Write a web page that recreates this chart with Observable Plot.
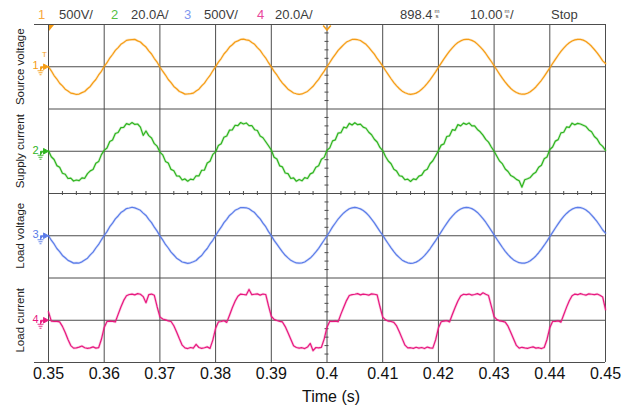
<!DOCTYPE html>
<html>
<head>
<meta charset="utf-8">
<script src="https://cdn.jsdelivr.net/npm/d3@7"></script>
<script src="https://cdn.jsdelivr.net/npm/@observablehq/plot@0.6"></script>
<style>
  html, body { margin: 0; padding: 0; background: #fff; }
  #chart { position: relative; width: 631px; height: 408px; font-family: "Liberation Sans", Arial, sans-serif; }
  #header { position: relative; height: 20px; font-size: 13px; color: #3c3c3c; }
  #header span { position: absolute; top: 7px; line-height: 15px; white-space: nowrap; }
  #header span.unit { top: 9px; font-size: 6px; line-height: 5px; text-align: center; }
  #chart svg { display: block; }
</style>
</head>
<body>
<div id="chart"><div id="header"></div></div>
<script>
// Scope channels, top to bottom
const channels = ["Source voltage", "Supply current", "Load voltage", "Load current"];
const channelNumbers = ["1", "2", "3", "4"];
const scaleLabels = ["500V/", "20.0A/", "500V/", "20.0A/"];
const unitsPerDiv = [500, 20, 500, 20];      // V/div, A/div
const channelOffsets = [3, 1, -1, -3];        // ground reference, in divisions
const traceColors = ["#f59c14", "#2fb41e", "#5b7ce9", "#e8187f"];
const numberColors = ["#f7a941", "#55c043", "#8197ef", "#e9479b"];

// Timebase readout
const triggerDelay = "898.4";
const timePerDiv = "10.00";
const timeUnit = "ms";
const runState = "Stop";

// Samples every 0.5 ms starting at 0.35 s
const t0 = 0.35;
const dt = 0.0005;

const sourceVoltage = [
  0, -48, -104, -145, -195, -226, -266, -287, -312, -318, -328, -323, -306, -293, -260, -233, -188, -151, -97, -54,
  3, 48, 103, 145, 194, 227, 266, 287, 312, 319, 322, 324, 306, 293, 260, 233, 188, 151, 97, 54,
  -3, -53, -98, -151, -188, -233, -260, -293, -306, -324, -322, -319, -312, -287, -266, -227, -194, -145, -103, -48,
  2, 54, 97, 151, 188, 233, 260, 293, 306, 323, 327, 318, 312, 287, 266, 227, 194, 145, 103, 48,
  -2, -55, -97, -150, -193, -228, -265, -288, -311, -320, -326, -322, -307, -292, -262, -231, -189, -150, -98, -52,
  1, 50, 102, 147, 193, 228, 262, 292, 307, 323, 324, 320, 311, 288, 265, 229, 189, 150, 98, 55,
  8, -44, -93, -142, -187, -226, -260, -289, -307, -320, -327, -322, -312, -294, -266, -235, -196, -155, -108, -60,
  -8, 42, 93, 140, 186, 224, 259, 286, 306, 320, 325, 323, 312, 295, 268, 236, 199, 157, 109, 62,
  12, -39, -90, -138, -183, -222, -257, -285, -305, -318, -325, -324, -314, -296, -270, -239, -200, -160, -113, -64,
  -14, 38, 88, 136, 181, 220, 256, 284, 305, 318, 324, 323, 315, 298, 273, 242, 204, 165, 119, 70,
  38
];

const supplyCurrent = [
  0.2, -2.6, -3.9, -6.8, -7.6, -10.4, -10.9, -12.9, -12.7, -14.1, -13.6, -13.9, -12.6, -12.8, -10.6, -9.3, -8.6, -5.7, -4.9, -1.6,
  0.4, 1.5, 4.6, 5.3, 8.4, 8.9, 11.2, 11.3, 13.1, 12.6, 13.6, 12.7, 12.9, 11.4, 7.5, 9.6, 7.4, 6.3, 3.6, 2.4,
  -0.4, -1.7, -4.8, -5.6, -8.6, -9.2, -11.7, -11.8, -13.6, -13.1, -14.2, -13.2, -13.5, -11.6, -11.7, -9.0, -8.9, -5.6, -4.7, -1.5,
  -0.3, 2.7, 3.6, 6.6, 7.2, 10.0, 10.1, 12.3, 12.1, 13.6, 12.9, 13.4, 12.1, 12.2, 10.2, 9.8, 7.2, 6.4, 4.5, 2.6,
  0.6, -2.8, -3.7, -6.9, -7.4, -10.3, -10.6, -12.9, -12.6, -14.2, -13.4, -14.0, -12.5, -12.9, -10.7, -10.1, -7.6, -6.9, -3.8, -2.9,
  0.5, 1.6, 4.9, 5.4, 8.6, 8.8, 11.4, 11.0, 13.2, 12.4, 13.5, 12.6, 12.8, 11.4, 10.9, 9.0, 7.8, 5.7, 4.4, 1.8,
  0.3, -2.5, -4.6, -5.9, -8.5, -9.4, -11.6, -11.9, -13.5, -13.2, -14.3, -13.1, -13.4, -11.8, -11.3, -9.2, -8.5, -5.9, -4.5, -2.2,
  0.2, 2.9, 3.5, 7.0, 7.3, 10.2, 9.9, 12.6, 12.0, 13.3, 12.7, 13.4, 12.0, 12.0, 10.3, 9.2, 7.6, 5.6, 4.3, 2.0,
  0.0, -2.4, -4.7, -6.0, -8.4, -9.6, -11.5, -12.2, -13.3, -14.0, -17.0, -13.5, -13.0, -12.4, -10.8, -9.9, -7.6, -6.6, -3.5, -2.7,
  0.8, 2.0, 4.8, 5.5, 8.7, 9.0, 11.5, 11.3, 13.3, 12.5, 13.2, 12.9, 12.3, 11.7, 10.1, 9.2, 7.0, 5.8, 3.5, 2.3,
  0.4
];

const loadVoltage = [
  0, -53, -97, -151, -188, -233, -261, -292, -306, -324, -321, -323, -309, -287, -266, -227, -194, -145, -103, -48,
  3, 49, 107, 149, 200, 234, 274, 295, 322, 328, 337, 330, 316, 301, 268, 240, 194, 155, 101, 55,
  -2, -49, -103, -145, -194, -228, -265, -287, -311, -318, -327, -320, -307, -293, -260, -234, -188, -151, -97, -54,
  2, 55, 101, 155, 194, 240, 268, 301, 316, 334, 333, 331, 319, 295, 274, 234, 200, 149, 107, 49,
  1, -55, -99, -146, -192, -231, -262, -291, -308, -322, -324, -321, -310, -288, -264, -229, -192, -149, -99, -50,
  -1, 50, 105, 151, 198, 236, 270, 297, 320, 330, 336, 329, 318, 299, 272, 238, 196, 153, 103, 52,
  6, -46, -95, -143, -187, -228, -259, -289, -306, -320, -326, -323, -312, -293, -267, -235, -197, -154, -106, -58,
  -6, 46, 98, 146, 193, 233, 268, 296, 317, 330, 335, 332, 321, 302, 276, 241, 203, 160, 111, 61,
  10, -41, -91, -139, -184, -224, -257, -286, -304, -319, -325, -324, -314, -296, -270, -239, -201, -158, -112, -63,
  -11, 40, 92, 141, 188, 229, 264, 293, 315, 329, 335, 333, 323, 305, 279, 245, 207, 166, 118, 68,
  32
];

const loadCurrent = [
  4.0, -0.4, -0.6, -0.5, -0.8, -2.9, -5.8, -9.1, -12.0, -13.2, -13.1, -12.7, -12.2, -13.0, -13.3, -13.1, -12.6, -13.2, -13.0, -9.0,
  -3.4, -0.6, -0.4, -0.5, -0.8, 2.8, 6.3, 9.4, 11.6, 12.2, 12.4, 12.0, 12.6, 12.3, 11.2, 8.3, 12.1, 12.4, 11.8, 6.4,
  1.6, 0.6, 0.2, -0.3, -0.6, -2.6, -5.6, -8.8, -11.8, -13.1, -13.4, -12.9, -13.2, -11.4, -12.9, -13.3, -13.0, -12.6, -13.3, -9.4,
  -3.8, -0.8, -0.6, -0.2, -1.0, 2.4, 5.9, 9.0, 11.4, 12.4, 12.2, 12.0, 14.6, 12.1, 12.3, 12.5, 11.9, 12.4, 12.2, 6.8,
  1.9, 0.4, -0.1, -0.5, -0.8, -3.0, -5.9, -9.0, -12.1, -12.9, -13.2, -13.0, -13.4, -12.7, -11.0, -14.4, -12.9, -13.1, -12.8, -8.8,
  -3.3, -0.5, -0.6, -0.4, -0.7, 2.9, 6.2, 9.3, 11.7, 12.1, 12.3, 12.6, 12.0, 12.4, 12.2, 11.9, 12.5, 12.3, 12.0, 6.5,
  1.5, 0.2, -0.4, -0.6, -1.0, -2.7, -5.6, -8.7, -11.8, -13.1, -13.0, -13.3, -12.8, -13.2, -12.9, -13.4, -12.7, -13.1, -13.2, -9.3,
  -3.7, -0.7, -0.4, -0.2, -0.8, 2.7, 6.0, 9.1, 11.5, 12.3, 12.1, 12.4, 11.9, 12.2, 12.6, 12.0, 13.0, 12.3, 11.7, 6.7,
  1.7, 0.3, -0.3, -0.5, -0.9, -2.8, -5.8, -8.9, -11.9, -13.2, -12.8, -13.1, -13.3, -12.9, -12.6, -13.2, -13.0, -13.4, -12.9, -9.1,
  -3.5, -0.6, -0.5, -0.3, -0.9, 2.6, 6.1, 9.2, 11.6, 12.4, 12.1, 12.6, 12.2, 11.9, 12.5, 12.3, 12.1, 12.4, 11.8, 11.0,
  5.0
];

const xTicks = [0.35, 0.36, 0.37, 0.38, 0.39, 0.40, 0.41, 0.42, 0.43, 0.44, 0.45];
const xTickLabels = ["0.35", "0.36", "0.37", "0.38", "0.39", "0.4", "0.41", "0.42", "0.43", "0.44", "0.45"];
const xLabel = "Time (s)";

// ---- header readout (channel scales and timebase) ----
const header = document.getElementById("header");
function addSpan(html, left, color, cls) {
  const s = document.createElement("span");
  s.innerHTML = html;
  s.style.left = left + "px";
  if (color) s.style.color = color;
  if (cls) s.className = cls;
  header.appendChild(s);
}
const numberLeft = [38, 111, 184, 257];
const scaleLeft = [59, 131, 204, 275];
channelNumbers.forEach((n, i) => {
  addSpan(n, numberLeft[i], numberColors[i]);
  addSpan(scaleLabels[i], scaleLeft[i]);
});
const stackedUnit = timeUnit.split("").join("<br>");
addSpan(triggerDelay, 400);
addSpan(stackedUnit, 434.5, null, "unit");
addSpan(timePerDiv, 470);
addSpan(stackedUnit, 504.5, null, "unit");
addSpan("/", 510);
addSpan(runState, 551);

// ---- traces in screen divisions ----
const series = [sourceVoltage, supplyCurrent, loadVoltage, loadCurrent];
const rows = series.flatMap((vals, c) =>
  vals.map((v, i) => ({t: t0 + i * dt, ch: channels[c], y: channelOffsets[c] + v / unitsPerDiv[c]}))
);

// Graticule: 10 x 8 divisions, minor marks on the centre lines
const gridColor = "#4d4d4d";
const innerRows = d3.range(-3, 4);
const minorY = d3.range(-20, 21).filter(k => k % 5 !== 0).map(k => k / 5);
const minorX = d3.range(1, 40).filter(k => k % 4 !== 0).map(k => 0.35 + k * 0.0025);

// Channel ground marker: arrow with a ground symbol below
const groundMarker = {
  draw(ctx) {
    ctx.moveTo(0, 0); ctx.lineTo(-5, -2.8); ctx.lineTo(-5, 2.8); ctx.closePath();
    ctx.moveTo(-5, 0); ctx.lineTo(-8, 0); ctx.lineTo(-8, 4);
    ctx.moveTo(-11, 4); ctx.lineTo(-5, 4);
    ctx.moveTo(-10, 6); ctx.lineTo(-6, 6);
    ctx.moveTo(-9, 8); ctx.lineTo(-7, 8);
  }
};
// Trigger position markers along the top edge
const cornerMarker = {
  draw(ctx) { ctx.moveTo(0.5, 0.5); ctx.lineTo(5.5, 0.5); ctx.lineTo(0.5, 6.5); ctx.closePath(); }
};
const triggerMarker = {
  draw(ctx) { ctx.moveTo(-3.8, 1); ctx.lineTo(0, 5.5); ctx.lineTo(3.8, 1); }
};

const chart = Plot.plot({
  width: 631,
  height: 388,
  marginTop: 4,
  marginBottom: 46,
  marginLeft: 34,
  marginRight: 26,
  style: {fontFamily: "'Liberation Sans', Arial, sans-serif", background: "#fff", color: "#111"},
  x: {domain: [0.35, 0.45], insetLeft: 14, axis: null},
  y: {domain: [-4, 4], axis: null},
  color: {domain: channels, range: traceColors},
  marks: [
    Plot.ruleX(xTicks, {stroke: gridColor, strokeWidth: 1}),
    Plot.ruleY(innerRows, {x1: 0.35, x2: 0.45, stroke: gridColor, strokeWidth: 1}),
    Plot.ruleY([4, -4], {stroke: gridColor, strokeWidth: 1}),
    Plot.ruleY(minorY, {x1: 0.40, x2: 0.40, insetLeft: -2, insetRight: -2, stroke: gridColor}),
    Plot.ruleX(minorX, {y1: 0, y2: 0, insetTop: -2, insetBottom: -2, stroke: gridColor}),
    Plot.line(rows, {x: "t", y: "y", z: "ch", stroke: "ch", strokeWidth: 2.6, strokeOpacity: 0.22}),
    Plot.line(rows, {x: "t", y: "y", z: "ch", stroke: "ch", strokeWidth: 1.2}),
    Plot.dot(channels, {x: 0.35, y: (d, i) => channelOffsets[i], symbol: groundMarker, fill: d => d, stroke: d => d, strokeWidth: 0.9}),
    Plot.text(channelNumbers, {x: 0.35, y: (d, i) => channelOffsets[i], text: d => d, fill: (d, i) => channels[i], dx: -10, dy: -1, textAnchor: "end", fontSize: 11}),
    Plot.text(["T"], {x: 0.35, y: channelOffsets[0], text: d => d, fill: traceColors[0], dx: -4, dy: -12, fontSize: 8}),
    Plot.dot([0.35], {x: d => d, y: 4, symbol: cornerMarker, fill: traceColors[0], stroke: "none"}),
    Plot.dot([0.40], {x: d => d, y: 4, symbol: triggerMarker, fill: "none", stroke: traceColors[0], strokeWidth: 1.6}),
    Plot.text(channels, {x: 0.35, y: (d, i) => channelOffsets[i], text: d => d, rotate: -90, dx: -28, fontSize: 11.5, fill: "#222"}),
    Plot.axisX(xTicks, {tickFormat: d => xTickLabels[xTicks.indexOf(d)], tickSize: 0, tickPadding: 5, fontSize: 16, fill: "#111", label: null}),
    Plot.text([xLabel], {frameAnchor: "bottom", text: d => d, dx: 11, dy: 39.5, lineAnchor: "bottom", fontSize: 16, fill: "#111"})
  ]
});
document.getElementById("chart").appendChild(chart);
</script>
</body>
</html>
